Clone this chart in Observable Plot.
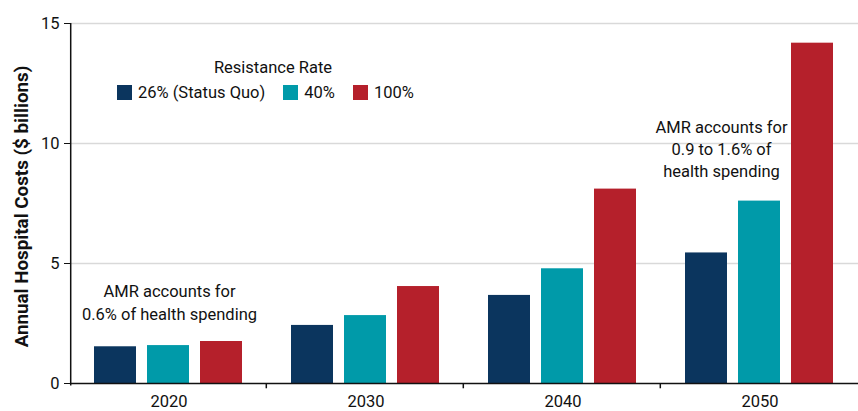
<!DOCTYPE html>
<html>
<head>
<meta charset="utf-8">
<script src="https://cdn.jsdelivr.net/npm/d3@7"></script>
<script src="https://cdn.jsdelivr.net/npm/@observablehq/plot@0.6"></script>
<style>
  html, body { margin: 0; padding: 0; background: #fff; }
  #wrap { position: relative; width: 858px; height: 411px; font-family: Roboto, sans-serif; color: #111; }
  #legend { position: absolute; left: 110px; top: 58px; font-size: 16.5px; }
  #legend .title { position: absolute; left: 0; width: 326px; text-align: center; top: 0; white-space: nowrap; }
  #legend .row { position: absolute; top: 25px; left: 7px; display: flex; align-items: center; white-space: nowrap; }
  #legend .sw { width: 15px; height: 15px; display: inline-block; margin-right: 6px; }
  #legend .item { display: flex; align-items: center; margin-right: 18px; }
</style>
</head>
<body>
<div id="wrap"></div>
<script>
const years = ["2020", "2030", "2040", "2050"];
const series = ["26% (Status Quo)", "40%", "100%"];
const statusQuo = [1.53, 2.42, 3.67, 5.44];
const rate40 = [1.58, 2.83, 4.78, 7.6];
const rate100 = [1.75, 4.04, 8.1, 14.18];
const colors = ["#0b355e", "#009aa9", "#b5202b"];
const yTicks = [0, 5, 10, 15];
const yTitle = "Annual Hospital Costs ($ billions)";
const note2020 = [{year: "2020", series: "40%", value: 3.42, text: "AMR accounts for\n0.6% of health spending"}];
const note2050 = [{year: "2050", series: "40%", value: 9.82, text: "AMR accounts for\n0.9 to 1.6% of\nhealth spending"}];

const valuesBySeries = [statusQuo, rate40, rate100];
const data = [];
years.forEach((yr, i) => series.forEach((s, j) => data.push({year: yr, series: s, value: valuesBySeries[j][i]})));

const chart = Plot.plot({
  width: 858,
  height: 411,
  marginLeft: 69,
  marginRight: 0,
  marginTop: 23,
  marginBottom: 28,
  style: {fontFamily: "Roboto, sans-serif", fontSize: "16.5px", color: "#111"},
  fx: {domain: years, padding: 0},
  x: {domain: series, paddingInner: 0.2037, paddingOuter: 0.43},
  y: {domain: [0, 15]},
  color: {domain: series, range: colors},
  marks: [
    Plot.gridY(yTicks.slice(1), {stroke: "#d9d9d9", strokeOpacity: 1, strokeWidth: 1.5}),
    Plot.barY(data, {fx: "year", x: "series", y: "value", fill: "series"}),
    Plot.ruleY([0], {stroke: "#111", strokeWidth: 1.5}),
    Plot.ruleX(years.slice(0, 3).map(y => ({year: y})), {fx: "year", x: () => "100%", dx: 44.8, y1: 0, y2: -0.22, stroke: "#111", strokeWidth: 1.5}),
    Plot.ruleX([{year: "2020"}], {fx: "year", x: () => "26% (Status Quo)", dx: -44.8, y1: -0.1, y2: 15, stroke: "#111", strokeWidth: 1.5}),
    Plot.axisY({ticks: yTicks, tickSize: 6, tickPadding: 5, label: null, fontSize: 16.5, stroke: "#111"}),
    Plot.axisFx({anchor: "bottom", tickSize: 0, tickPadding: 12, label: null, fontSize: 16.5}),
    Plot.axisX({ticks: [], label: null}),
    Plot.text([{year: "2020"}], {fx: "year", frameAnchor: "left", textAnchor: "middle", text: () => yTitle, rotate: -90, dx: -49, dy: 3, fontWeight: "bold", fontSize: 18.8, fill: "#111"}),
    Plot.text(note2020, {fx: "year", x: "series", y: "value", text: "text", dx: 1, fontSize: 16.5, lineHeight: 1.35, fill: "#111"}),
    Plot.text(note2050, {fx: "year", x: "series", y: "value", text: "text", dx: -38, fontSize: 16.5, lineHeight: 1.35, fill: "#111"})
  ]
});
document.getElementById("wrap").appendChild(chart);

const legend = document.createElement("div");
legend.id = "legend";
legend.innerHTML = `<div class="title">Resistance Rate</div><div class="row">${series.map((s, i) => `<span class="item"><span class="sw" style="background:${colors[i]}"></span>${s}</span>`).join("")}</div>`;
document.getElementById("wrap").appendChild(legend);
</script>
</body>
</html>
